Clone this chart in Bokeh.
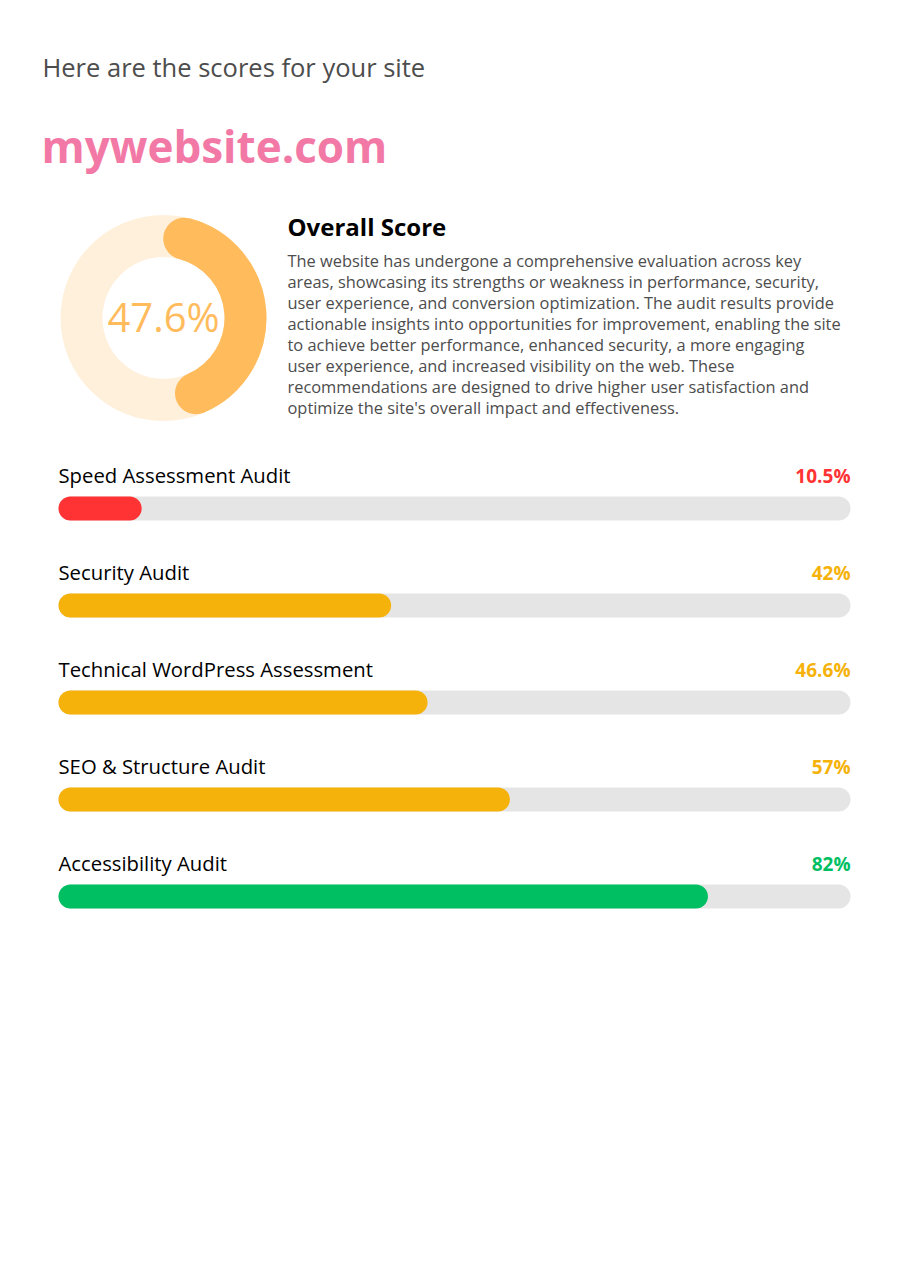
import math
from bokeh.plotting import figure
from bokeh.models import Range1d
from bokeh.core.properties import value
from bokeh.embed import file_html
from bokeh.resources import INLINE

# ---------------- data ----------------
site_name = "mywebsite.com"
intro = "Here are the scores for your site"
overall_title = "Overall Score"
overall_score = 47.6
overall_text = [
    "The website has undergone a comprehensive evaluation across key",
    "areas, showcasing its strengths or weakness in performance, security,",
    "user experience, and conversion optimization. The audit results provide",
    "actionable insights into opportunities for improvement, enabling the site",
    "to achieve better performance, enhanced security, a more engaging",
    "user experience, and increased visibility on the web. These",
    "recommendations are designed to drive higher user satisfaction and",
    "optimize the site's overall impact and effectiveness.",
]
audits = [
    "Speed Assessment Audit",
    "Security Audit",
    "Technical WordPress Assessment",
    "SEO & Structure Audit",
    "Accessibility Audit",
]
scores = [10.5, 42, 46.6, 57, 82]

# ---------------- style ----------------
FONT = value("Open Sans")
RED, AMBER, GREEN = "#FF3333", "#F5B20A", "#00BF63"
TRACK = "#E5E5E5"


def score_color(v):
    if v < 30:
        return RED
    if v < 80:
        return AMBER
    return GREEN


W, H = 890, 1266
K = 0.40  # baseline correction (fraction of font size)


def Y(ys):  # screenshot y -> data y (data y increases upward)
    return H - ys


def TY(ys, size):  # baseline position for text of given px size
    return H - ys + K * size


p = figure(width=W, height=H, output_backend="svg", toolbar_location=None,
           x_range=Range1d(0, W), y_range=Range1d(0, H),
           min_border=0, min_border_left=0, min_border_right=0,
           min_border_top=0, min_border_bottom=0)
p.axis.visible = False
p.grid.visible = False
p.outline_line_color = None
p.background_fill_color = "white"
p.border_fill_color = "white"

# percent scale for the bars: 0 -> x=58, 100 -> x=850
BAR_L, BAR_R = 58, 850
ppu = (BAR_R - BAR_L) / 100.0
p.extra_x_ranges = {"pct": Range1d(-BAR_L / ppu, 100 + (W - BAR_R) / ppu)}

# ---- header texts ----
s = 25.5
p.text(x=[42], y=[TY(77, s)], text=[intro], text_font=FONT, text_font_size=f"{s}px",
       text_color="#4D4D4D", text_baseline="alphabetic", text_align="left")
s = 44
p.text(x=[41], y=[TY(163, s)], text=[site_name], text_font=FONT, text_font_size=f"{s}px",
       text_font_style="bold", text_color="#F279A6", text_baseline="alphabetic",
       text_align="left")

# ---- donut ----
cx, cy = 163, Y(317.5)
r_in, r_out = 61, 103
r_mid = (r_in + r_out) / 2
thick = r_out - r_in
p.annulus(x=[cx], y=[cy], inner_radius=r_in, outer_radius=r_out,
          fill_color="#FFF0DB", line_color=None)
sweep = overall_score / 100 * 2 * math.pi
cap = (thick / 2) / r_mid
start = math.pi / 2 - (sweep - cap)
end = math.pi / 2 - cap
p.arc(x=[cx], y=[cy], radius=r_mid, start_angle=start, end_angle=end,
      line_width=thick, line_cap="round", line_color="#FFBB5C")
s = 40
p.text(x=[cx], y=[TY(332, s)], text=[f"{overall_score:g}%"], text_font=FONT,
       text_font_size=f"{s}px", text_color="#FFBB5C", text_baseline="alphabetic",
       text_align="center")

# ---- overall text ----
s = 24
p.text(x=[287], y=[TY(236, s)], text=[overall_title], text_font=FONT,
       text_font_size=f"{s}px", text_font_style="bold", text_color="#000000",
       text_baseline="alphabetic", text_align="left")
s = 16.4
line_y = [TY(266.5 + i * 21.05, s) for i in range(len(overall_text))]
p.text(x=[287] * len(overall_text), y=line_y, text=overall_text, text_font=FONT,
       text_font_size=f"{s}px", text_color="#4D4D4D", text_baseline="alphabetic",
       text_align="left")

# ---- audit bars ----
bar_h = 24
c = (bar_h / 2) / ppu
n = len(audits)
row_y = [Y(508 + i * 97) for i in range(n)]
cols = [score_color(v) for v in scores]

p.segment(x0=[c] * n, x1=[100 - c] * n, y0=row_y, y1=row_y,
          line_width=bar_h, line_cap="round", line_color=TRACK, x_range_name="pct")
p.segment(x0=[c] * n, x1=[v - c for v in scores], y0=row_y, y1=row_y,
          line_width=bar_h, line_cap="round", line_color=cols, x_range_name="pct")
s = 20.3
p.text(x=[0] * n, y=[TY(483 + i * 97, s) for i in range(n)], text=audits, text_font=FONT,
       text_font_size=f"{s}px", text_color="#000000", text_baseline="alphabetic",
       text_align="left", x_range_name="pct")
s = 19
p.text(x=[100] * n, y=[TY(483 + i * 97, s) for i in range(n)],
       text=[f"{v:g}%" for v in scores],
       text_font=FONT, text_font_size=f"{s}px", text_font_style="bold",
       text_color=cols, text_baseline="alphabetic", text_align="right",
       x_range_name="pct")

open("out.html", "w").write(file_html(p, INLINE))
